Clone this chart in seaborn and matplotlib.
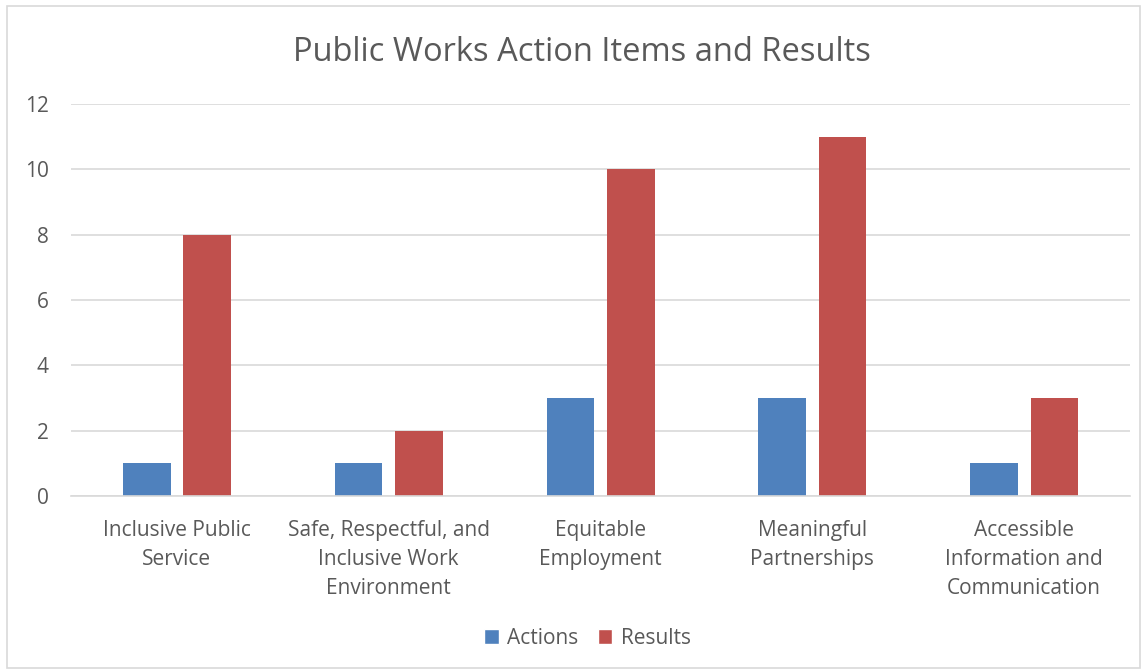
import matplotlib
matplotlib.use("Agg")
import matplotlib.pyplot as plt
import seaborn as sns
import pandas as pd
from matplotlib.patches import Rectangle, Patch

categories = ["Inclusive Public\nService",
              "Safe, Respectful, and\nInclusive Work\nEnvironment",
              "Equitable\nEmployment",
              "Meaningful\nPartnerships",
              "Accessible\nInformation and\nCommunication"]
actions = [1, 1, 3, 3, 1]
results = [8, 2, 10, 11, 3]
series_names = ["Actions", "Results"]
colors = ["#4F81BD", "#C0504D"]

df = pd.DataFrame({
    "Category": categories * 2,
    "Series": [series_names[0]] * len(categories) + [series_names[1]] * len(categories),
    "Value": actions + results,
})

sns.set_style("white")
plt.rcParams['font.family'] = ['Open Sans', 'DejaVu Sans']
text_color = "#595959"

fig = plt.figure(figsize=(11.45, 6.72), dpi=100)
ax = fig.add_axes([0.062, 0.262, 0.925, 0.583])

sns.barplot(data=df, x="Category", y="Value", hue="Series", palette=colors,
            width=0.57, gap=0.21, ax=ax, legend=False, saturation=1,
            linewidth=0, edgecolor="none")

ax.set_ylim(0, 12)
ax.set_yticks(range(0, 13, 2))
ax.yaxis.grid(True, color="#D9D9D9", linewidth=1.2)
ax.set_axisbelow(True)
for s in ["top", "right", "left"]:
    ax.spines[s].set_visible(False)
ax.spines["bottom"].set_color("#D9D9D9")
ax.spines["bottom"].set_linewidth(1.2)
ax.set_xlabel("")
ax.set_ylabel("")
ax.tick_params(axis="both", length=0, colors=text_color, labelsize=15)
ax.tick_params(axis="x", pad=17)
ax.tick_params(axis="y", pad=16)
for lab in ax.get_xticklabels():
    lab.set_linespacing(1.5)

fig.text(0.508, 0.922, "Public Works Action Items and Results", ha="center", va="center",
         fontsize=23.5, color=text_color)

handles = [Patch(facecolor=c, label=n) for c, n in zip(colors, series_names)]
fig.legend(handles=handles, loc="center", bbox_to_anchor=(0.513, 0.05), ncol=2,
           frameon=False, fontsize=15, handlelength=0.7, handleheight=0.7,
           columnspacing=0.95, handletextpad=0.4, labelcolor=text_color)

fig.patches.append(Rectangle((7 / 1145, 4 / 672), 1133 / 1145, 662 / 672,
                             transform=fig.transFigure, fill=False,
                             edgecolor="#D9D9D9", linewidth=1.2))

fig.savefig("out.png", dpi=100)
